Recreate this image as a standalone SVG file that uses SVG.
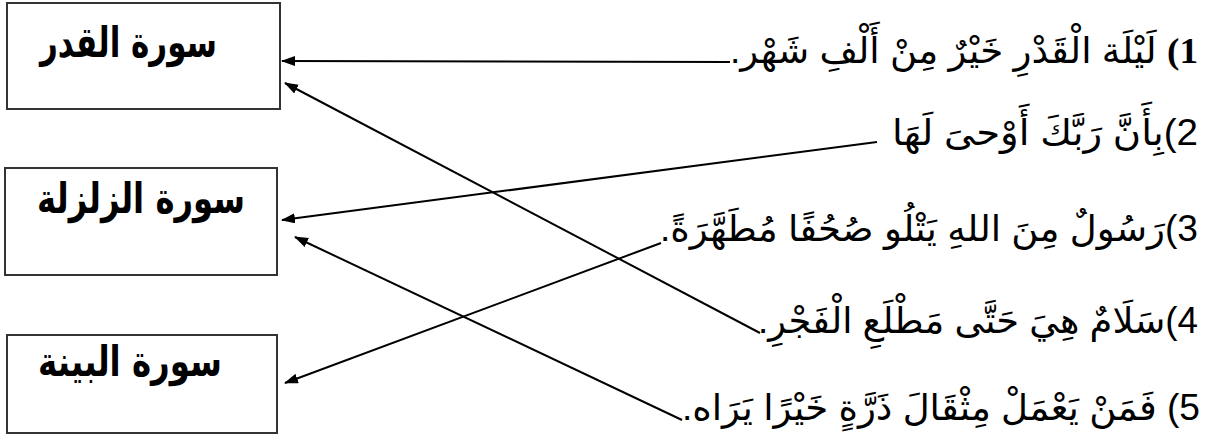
<svg xmlns="http://www.w3.org/2000/svg" width="1215" height="436" viewBox="0 0 1215 436">
<style>
.box{fill:#fff;stroke:#333;stroke-width:2}
.lbl{font-family:"DejaVu Sans",sans-serif;font-weight:bold;font-size:42px;fill:#000}
.ayah{font-family:"Liberation Sans","DejaVu Sans",sans-serif;font-size:36px;fill:#000}
.con{stroke:#000;stroke-width:2;fill:none}
</style>
<defs>
<marker id="ah" markerWidth="14" markerHeight="10" refX="13" refY="5" orient="auto" markerUnits="userSpaceOnUse">
<path d="M0,0 L14,5 L0,10 Z" fill="#000"/>
</marker>
</defs>
<rect width="1215" height="436" fill="#fff"/>
<g id="box-qadr">
<rect class="box" x="7" y="3" width="273" height="106"/>
<text class="lbl" x="217" y="57" direction="rtl" textLength="177" lengthAdjust="spacingAndGlyphs">سورة القدر</text>
</g>
<g id="box-zalzala">
<rect class="box" x="5" y="168" width="272" height="107"/>
<text class="lbl" x="245" y="213" direction="rtl" textLength="208" lengthAdjust="spacingAndGlyphs">سورة الزلزلة</text>
</g>
<g id="box-bayyina">
<rect class="box" x="7" y="335" width="270" height="98"/>
<text class="lbl" x="222" y="376" direction="rtl" textLength="184" lengthAdjust="spacingAndGlyphs">سورة البينة</text>
</g>
<g id="ayah1">
<text class="ayah" x="1198" y="63" direction="rtl" textLength="468" lengthAdjust="spacingAndGlyphs"><tspan font-family="Liberation Serif" font-weight="bold">1)</tspan> لَيْلَة الْقَدْرِ خَيْرٌ مِنْ أَلْفِ شَهْر.</text>
</g>
<g id="ayah2">
<text class="ayah" x="1198" y="145" direction="rtl" textLength="306" lengthAdjust="spacingAndGlyphs">2)بِأَنَّ رَبَّكَ أَوْحىَ لَهَا</text>
</g>
<g id="ayah3">
<text class="ayah" x="1198" y="241" direction="rtl" textLength="538" lengthAdjust="spacingAndGlyphs">3)رَسُولٌ مِنَ اللهِ يَتْلُو صُحُفًا مُطَهَّرَةً.</text>
</g>
<g id="ayah4">
<text class="ayah" x="1198" y="333" direction="rtl" textLength="440" lengthAdjust="spacingAndGlyphs">4)سَلَامٌ هِيَ حَتَّى مَطْلَعِ الْفَجْرِ.</text>
</g>
<g id="ayah5">
<text class="ayah" x="1200" y="420" direction="rtl" textLength="518" lengthAdjust="spacingAndGlyphs">5) فَمَنْ يَعْمَلْ مِثْقَالَ ذَرَّةٍ خَيْرًا يَرَاه.</text>
</g>
<g id="connectors">
<line class="con" x1="730" y1="62" x2="282" y2="61" marker-end="url(#ah)"/>
<line class="con" x1="877" y1="142" x2="282" y2="220" marker-end="url(#ah)"/>
<line class="con" x1="661" y1="243" x2="285" y2="383" marker-end="url(#ah)"/>
<line class="con" x1="760" y1="333" x2="285" y2="83" marker-end="url(#ah)"/>
<line class="con" x1="682" y1="420" x2="295" y2="237" marker-end="url(#ah)"/>
</g>
</svg>
